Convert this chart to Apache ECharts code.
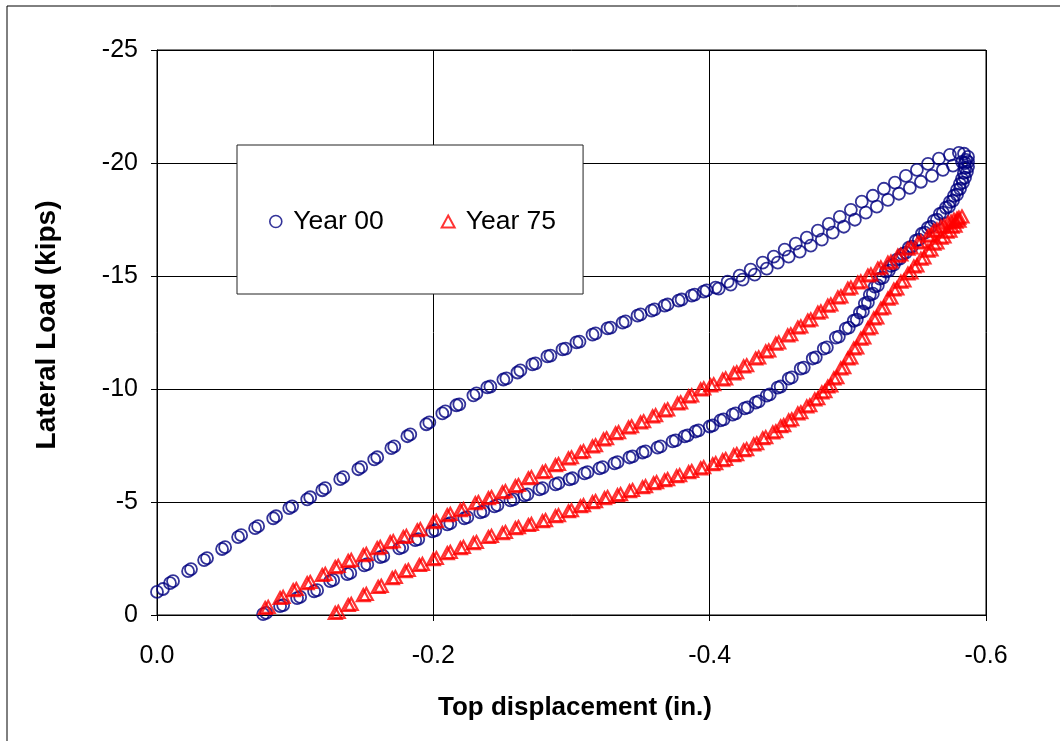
<!DOCTYPE html>
<html>
<head>
<meta charset="utf-8">
<script src="https://cdn.jsdelivr.net/npm/echarts@6/dist/echarts.min.js"></script>
<style>
  html, body { margin: 0; padding: 0; background: #fff; }
  #chart { width: 1060px; height: 741px; }
</style>
</head>
<body>
<div id="chart"></div>
<script>
// Hysteresis loops: top displacement (in.) vs lateral load (kips), two cycles per case.

const seriesNames = ['Year 00', 'Year 75'];
const xTicks = [0, -0.2, -0.4, -0.6];
const yTicks = [0, -5, -10, -15, -20, -25];

// Year 00, cycle A: loading branch up to the peak
const year00UpA = [
  [0.0000,-1.02],[-0.0094,-1.41],[-0.0225,-1.94],[-0.0341,-2.43],[-0.0471,-2.92],[-0.0587,-3.45],
  [-0.0710,-3.84],[-0.0841,-4.28],[-0.0957,-4.73],[-0.1087,-5.12],[-0.1196,-5.52],[-0.1326,-6.01],
  [-0.1457,-6.45],[-0.1572,-6.89],[-0.1696,-7.38],[-0.1812,-7.91],[-0.1949,-8.44],[-0.2065,-8.92],
  [-0.2167,-9.28],[-0.2290,-9.72],[-0.2391,-10.07],[-0.2507,-10.42],[-0.2609,-10.73],[-0.2717,-11.09],
  [-0.2826,-11.44],[-0.2935,-11.75],[-0.3036,-12.06],[-0.3152,-12.41],[-0.3261,-12.68],[-0.3370,-12.94],
  [-0.3478,-13.25],[-0.3580,-13.47],[-0.3674,-13.69],[-0.3775,-13.91],[-0.3870,-14.13],[-0.3957,-14.31],
  [-0.4043,-14.49],[-0.4130,-14.75],[-0.4217,-15.02],[-0.4297,-15.28],[-0.4384,-15.59],[-0.4464,-15.86],
  [-0.4543,-16.17],[-0.4623,-16.43],[-0.4703,-16.70],[-0.4783,-17.01],[-0.4862,-17.31],[-0.4942,-17.62],
  [-0.5022,-17.93],[-0.5101,-18.29],[-0.5181,-18.55],[-0.5261,-18.86],[-0.5341,-19.13],[-0.5420,-19.43],
  [-0.5500,-19.70],[-0.5580,-19.96],[-0.5659,-20.19],[-0.5739,-20.36],[-0.5804,-20.45],[-0.5841,-20.41],
  [-0.5870,-20.27]
];
// Year 00, cycle A: unloading branch back to zero load
const year00DownA = [
  [-0.5870,-20.05],[-0.5870,-19.83],[-0.5862,-19.61],[-0.5848,-19.35],[-0.5833,-19.13],[-0.5812,-18.86],
  [-0.5790,-18.60],[-0.5761,-18.33],[-0.5732,-18.07],[-0.5688,-17.80],[-0.5645,-17.49],[-0.5601,-17.18],
  [-0.5558,-16.92],[-0.5514,-16.61],[-0.5464,-16.30],[-0.5420,-16.03],[-0.5377,-15.77],[-0.5333,-15.50],
  [-0.5297,-15.24],[-0.5254,-14.93],[-0.5217,-14.58],[-0.5181,-14.22],[-0.5145,-13.83],[-0.5109,-13.43],
  [-0.5065,-13.07],[-0.5007,-12.72],[-0.4935,-12.32],[-0.4848,-11.84],[-0.4768,-11.40],[-0.4681,-10.95],
  [-0.4594,-10.51],[-0.4514,-10.11],[-0.4435,-9.76],[-0.4355,-9.45],[-0.4275,-9.19],[-0.4188,-8.92],
  [-0.4101,-8.66],[-0.4022,-8.39],[-0.3920,-8.17],[-0.3841,-7.95],[-0.3754,-7.73],[-0.3645,-7.46],
  [-0.3536,-7.24],[-0.3442,-7.02],[-0.3333,-6.76],[-0.3225,-6.54],[-0.3116,-6.32],[-0.3007,-6.05],
  [-0.2906,-5.83],[-0.2790,-5.61],[-0.2681,-5.34],[-0.2580,-5.12],[-0.2464,-4.86],[-0.2362,-4.59],
  [-0.2246,-4.33],[-0.2123,-4.06],[-0.2014,-3.75],[-0.1891,-3.36],[-0.1775,-3.00],[-0.1638,-2.61],
  [-0.1522,-2.25],[-0.1399,-1.86],[-0.1275,-1.55],[-0.1159,-1.10],[-0.1036,-0.80],[-0.0913,-0.44],
  [-0.0790,-0.09]
];
// Year 00, cycle B: loading branch
const year00UpB = [
  [-0.0043,-1.15],[-0.0116,-1.50],[-0.0246,-2.03],[-0.0362,-2.52],[-0.0493,-3.00],[-0.0609,-3.53],
  [-0.0732,-3.93],[-0.0862,-4.37],[-0.0978,-4.81],[-0.1109,-5.21],[-0.1217,-5.61],[-0.1348,-6.10],
  [-0.1478,-6.54],[-0.1594,-6.98],[-0.1717,-7.46],[-0.1833,-7.99],[-0.1971,-8.52],[-0.2087,-9.01],
  [-0.2188,-9.32],[-0.2312,-9.81],[-0.2413,-10.11],[-0.2529,-10.47],[-0.2630,-10.82],[-0.2739,-11.13],
  [-0.2848,-11.48],[-0.2957,-11.79],[-0.3058,-12.10],[-0.3174,-12.46],[-0.3283,-12.72],[-0.3391,-12.99],
  [-0.3500,-13.30],[-0.3601,-13.52],[-0.3696,-13.74],[-0.3797,-13.96],[-0.3891,-14.18],[-0.3978,-14.36],
  [-0.4065,-14.44],[-0.4152,-14.62],[-0.4239,-14.84],[-0.4326,-15.06],[-0.4413,-15.33],[-0.4493,-15.59],
  [-0.4572,-15.86],[-0.4652,-16.08],[-0.4732,-16.34],[-0.4812,-16.61],[-0.4891,-16.92],[-0.4971,-17.18],
  [-0.5051,-17.49],[-0.5130,-17.80],[-0.5210,-18.07],[-0.5290,-18.37],[-0.5370,-18.64],[-0.5449,-18.90],
  [-0.5529,-19.17],[-0.5609,-19.43],[-0.5688,-19.70],[-0.5761,-19.88],[-0.5826,-20.05],[-0.5855,-20.14]
];
// Year 00, cycle B: unloading branch
const year00DownB = [
  [-0.5848,-20.00],[-0.5848,-19.78],[-0.5840,-19.56],[-0.5826,-19.30],[-0.5811,-19.08],[-0.5790,-18.81],
  [-0.5768,-18.55],[-0.5739,-18.28],[-0.5710,-18.02],[-0.5666,-17.75],[-0.5623,-17.44],[-0.5579,-17.13],
  [-0.5536,-16.87],[-0.5492,-16.56],[-0.5442,-16.25],[-0.5398,-15.98],[-0.5355,-15.72],[-0.5311,-15.45],
  [-0.5275,-15.19],[-0.5232,-14.88],[-0.5195,-14.53],[-0.5159,-14.17],[-0.5123,-13.78],[-0.5087,-13.38],
  [-0.5043,-13.02],[-0.4985,-12.67],[-0.4913,-12.27],[-0.4826,-11.79],[-0.4746,-11.35],[-0.4659,-10.90],
  [-0.4572,-10.46],[-0.4492,-10.06],[-0.4413,-9.71],[-0.4333,-9.40],[-0.4253,-9.14],[-0.4166,-8.87],
  [-0.4079,-8.61],[-0.4000,-8.34],[-0.3898,-8.12],[-0.3819,-7.90],[-0.3732,-7.68],[-0.3623,-7.41],
  [-0.3514,-7.19],[-0.3420,-6.97],[-0.3311,-6.71],[-0.3203,-6.49],[-0.3094,-6.27],[-0.2985,-6.00],
  [-0.2884,-5.78],[-0.2768,-5.56],[-0.2659,-5.29],[-0.2558,-5.07],[-0.2442,-4.81],[-0.2340,-4.54],
  [-0.2224,-4.28],[-0.2101,-4.01],[-0.1992,-3.70],[-0.1869,-3.31],[-0.1753,-2.95],[-0.1616,-2.56],
  [-0.1500,-2.20],[-0.1377,-1.81],[-0.1253,-1.50],[-0.1137,-1.05],[-0.1014,-0.75],[-0.0891,-0.39],
  [-0.0768,-0.04]
];

// Year 75, cycle A: loading branch up to the peak
const year75UpA = [
  [-0.1290,-0.09],[-0.1384,-0.44],[-0.1493,-0.88],[-0.1601,-1.24],[-0.1703,-1.63],[-0.1797,-1.94],
  [-0.1899,-2.21],[-0.2000,-2.47],[-0.2101,-2.74],[-0.2196,-2.96],[-0.2290,-3.18],[-0.2399,-3.45],
  [-0.2500,-3.62],[-0.2594,-3.84],[-0.2688,-3.98],[-0.2790,-4.15],[-0.2884,-4.37],[-0.2978,-4.59],
  [-0.3065,-4.81],[-0.3152,-4.99],[-0.3239,-5.17],[-0.3333,-5.30],[-0.3420,-5.48],[-0.3514,-5.65],
  [-0.3594,-5.83],[-0.3674,-5.96],[-0.3761,-6.14],[-0.3848,-6.32],[-0.3935,-6.49],[-0.4022,-6.67],
  [-0.4094,-6.85],[-0.4174,-7.07],[-0.4246,-7.29],[-0.4319,-7.55],[-0.4384,-7.82],[-0.4457,-8.08],
  [-0.4514,-8.35],[-0.4572,-8.61],[-0.4638,-8.92],[-0.4703,-9.23],[-0.4761,-9.54],[-0.4812,-9.85],
  [-0.4855,-10.11],[-0.4899,-10.47],[-0.4949,-10.91],[-0.5000,-11.35],[-0.5043,-11.79],[-0.5094,-12.23],
  [-0.5145,-12.68],[-0.5188,-13.12],[-0.5239,-13.56],[-0.5290,-14.00],[-0.5333,-14.40],[-0.5384,-14.75],
  [-0.5435,-15.11],[-0.5478,-15.42],[-0.5529,-15.77],[-0.5580,-16.12],[-0.5623,-16.43],[-0.5674,-16.70],
  [-0.5717,-16.96],[-0.5754,-17.18],[-0.5783,-17.40],[-0.5804,-17.58]
];
// Year 75, cycle A: unloading branch
const year75DownA = [
  [-0.5768,-17.49],[-0.5725,-17.36],[-0.5674,-17.18],[-0.5623,-17.01],[-0.5580,-16.78],[-0.5507,-16.48],
  [-0.5435,-16.21],[-0.5362,-15.90],[-0.5290,-15.59],[-0.5217,-15.33],[-0.5145,-15.02],[-0.5072,-14.71],
  [-0.5000,-14.44],[-0.4928,-14.05],[-0.4855,-13.69],[-0.4783,-13.38],[-0.4710,-13.03],[-0.4638,-12.72],
  [-0.4565,-12.37],[-0.4478,-12.01],[-0.4406,-11.66],[-0.4333,-11.35],[-0.4246,-11.00],[-0.4174,-10.69],
  [-0.4094,-10.42],[-0.4007,-10.16],[-0.3935,-9.98],[-0.3848,-9.67],[-0.3768,-9.36],[-0.3674,-9.05],
  [-0.3587,-8.79],[-0.3500,-8.52],[-0.3413,-8.30],[-0.3319,-8.04],[-0.3232,-7.77],[-0.3152,-7.46],
  [-0.3065,-7.20],[-0.2978,-6.93],[-0.2884,-6.63],[-0.2790,-6.32],[-0.2688,-6.05],[-0.2594,-5.70],
  [-0.2500,-5.43],[-0.2399,-5.17],[-0.2304,-4.95],[-0.2196,-4.64],[-0.2101,-4.42],[-0.2000,-4.11],
  [-0.1884,-3.75],[-0.1783,-3.45],[-0.1688,-3.22],[-0.1594,-2.96],[-0.1493,-2.65],[-0.1384,-2.39],
  [-0.1290,-2.12],[-0.1196,-1.77],[-0.1087,-1.41],[-0.0986,-1.10],[-0.0891,-0.75],[-0.0783,-0.31]
];
// Year 75, cycle B: loading branch
const year75UpB = [
  [-0.1312,-0.14],[-0.1406,-0.49],[-0.1515,-0.93],[-0.1623,-1.29],[-0.1725,-1.68],[-0.1819,-1.99],
  [-0.1921,-2.26],[-0.2022,-2.52],[-0.2123,-2.79],[-0.2218,-3.01],[-0.2312,-3.23],[-0.2421,-3.50],
  [-0.2522,-3.67],[-0.2616,-3.89],[-0.2710,-4.03],[-0.2812,-4.20],[-0.2906,-4.42],[-0.3000,-4.64],
  [-0.3087,-4.86],[-0.3174,-5.04],[-0.3261,-5.22],[-0.3355,-5.35],[-0.3442,-5.53],[-0.3536,-5.70],
  [-0.3616,-5.88],[-0.3696,-6.01],[-0.3783,-6.19],[-0.3870,-6.37],[-0.3957,-6.54],[-0.4044,-6.72],
  [-0.4116,-6.90],[-0.4196,-7.12],[-0.4268,-7.34],[-0.4341,-7.60],[-0.4406,-7.87],[-0.4479,-8.13],
  [-0.4536,-8.40],[-0.4594,-8.66],[-0.4660,-8.97],[-0.4725,-9.28],[-0.4783,-9.59],[-0.4834,-9.90],
  [-0.4877,-10.16],[-0.4921,-10.52],[-0.4971,-10.96],[-0.5022,-11.40],[-0.5065,-11.84],[-0.5116,-12.28],
  [-0.5167,-12.73],[-0.5210,-13.17],[-0.5261,-13.61],[-0.5312,-14.05],[-0.5355,-14.45],[-0.5406,-14.80],
  [-0.5457,-15.16],[-0.5500,-15.47],[-0.5551,-15.82],[-0.5602,-16.17],[-0.5645,-16.48],[-0.5696,-16.75],
  [-0.5739,-17.01],[-0.5776,-17.23],[-0.5805,-17.45],[-0.5826,-17.63]
];
// Year 75, cycle B: unloading branch
const year75DownB = [
  [-0.5790,-17.54],[-0.5747,-17.41],[-0.5696,-17.23],[-0.5645,-17.06],[-0.5602,-16.83],[-0.5529,-16.53],
  [-0.5457,-16.26],[-0.5384,-15.95],[-0.5312,-15.64],[-0.5239,-15.38],[-0.5167,-15.07],[-0.5094,-14.76],
  [-0.5022,-14.49],[-0.4950,-14.10],[-0.4877,-13.74],[-0.4805,-13.43],[-0.4732,-13.08],[-0.4660,-12.77],
  [-0.4587,-12.42],[-0.4500,-12.06],[-0.4428,-11.71],[-0.4355,-11.40],[-0.4268,-11.05],[-0.4196,-10.74],
  [-0.4116,-10.47],[-0.4029,-10.21],[-0.3957,-10.03],[-0.3870,-9.72],[-0.3790,-9.41],[-0.3696,-9.10],
  [-0.3609,-8.84],[-0.3522,-8.57],[-0.3435,-8.35],[-0.3341,-8.09],[-0.3254,-7.82],[-0.3174,-7.51],
  [-0.3087,-7.25],[-0.3000,-6.98],[-0.2906,-6.68],[-0.2812,-6.37],[-0.2710,-6.10],[-0.2616,-5.75],
  [-0.2522,-5.48],[-0.2421,-5.22],[-0.2326,-5.00],[-0.2218,-4.69],[-0.2123,-4.47],[-0.2022,-4.16],
  [-0.1906,-3.80],[-0.1805,-3.50],[-0.1710,-3.27],[-0.1616,-3.01],[-0.1515,-2.70],[-0.1406,-2.44],
  [-0.1312,-2.17],[-0.1218,-1.82],[-0.1109,-1.46],[-0.1008,-1.15],[-0.0913,-0.80],[-0.0805,-0.36]
];

const FONT = '"Liberation Sans", Arial, Helvetica, sans-serif';
const BLUE = '#000080';
const RED = '#FF0000';

const chart = echarts.init(document.getElementById('chart'), null, { renderer: 'canvas' });

const fmtX = v => (Math.abs(v) < 1e-9 ? '0.0' : v.toFixed(1));
const fmtY = v => (Math.abs(v) < 1e-9 ? '0' : String(Math.round(v)));

chart.setOption({
  animation: false,
  backgroundColor: '#fff',
  grid: {
    left: 157, top: 50, right: 74, bottom: 126,
    show: true, borderColor: '#000', borderWidth: 1, backgroundColor: 'rgba(0,0,0,0)'
  },
  xAxis: {
    type: 'value',
    min: xTicks[3], max: xTicks[0], interval: 0.2,
    inverse: true,
    axisLine: { show: true, onZero: false, lineStyle: { color: '#000', width: 1 } },
    axisTick: { show: true, length: 6, inside: false, lineStyle: { color: '#000', width: 1 } },
    axisLabel: { margin: 29, fontSize: 25, color: '#000', fontFamily: FONT, formatter: fmtX },
    splitLine: { show: true, lineStyle: { color: '#000', width: 1 } }
  },
  yAxis: {
    type: 'value',
    min: yTicks[5], max: yTicks[0], interval: 5,
    inverse: true,
    axisLine: { show: true, onZero: false, lineStyle: { color: '#000', width: 1 } },
    axisTick: { show: true, length: 6, inside: false, lineStyle: { color: '#000', width: 1 } },
    axisLabel: { margin: 19, fontSize: 25, color: '#000', fontFamily: FONT, formatter: fmtY },
    splitLine: { show: true, lineStyle: { color: '#000', width: 1 } }
  },
  legend: {
    left: 237, top: 145,
    padding: [63, 27, 59, 32],
    itemGap: 57,
    itemWidth: 13, itemHeight: 12,
    backgroundColor: '#fff',
    borderColor: '#222', borderWidth: 1,
    textStyle: { fontSize: 26.5, lineHeight: 26, color: '#000', fontFamily: FONT, padding: [0, 0, 0, 6] },
    selectedMode: false,
    data: [
      { name: seriesNames[0], icon: 'circle',
        itemStyle: { color: 'rgba(0,0,0,0)', borderColor: BLUE, borderWidth: 1.6 } },
      { name: seriesNames[1], icon: 'triangle',
        itemStyle: { color: 'rgba(0,0,0,0)', borderColor: RED, borderWidth: 2 } }
    ]
  },
  graphic: [
    { type: 'rect', silent: true, z: -10,
      shape: { x: 7, y: 6, width: 1100, height: 800 },
      style: { fill: 'none', stroke: '#000', lineWidth: 1 } },
    { type: 'text', silent: true, x: 575, y: 708,
      style: { text: 'Top displacement (in.)', font: 'bold 26px ' + FONT, fill: '#000',
               align: 'center', verticalAlign: 'middle' } },
    { type: 'text', silent: true, x: 47, y: 325, rotation: Math.PI / 2,
      style: { text: 'Lateral Load (kips)', font: 'bold 28px ' + FONT, fill: '#000',
               align: 'center', verticalAlign: 'middle' } }
  ],
  series: [
    {
      name: seriesNames[0], type: 'scatter',
      symbol: 'circle', symbolSize: 12,
      itemStyle: { color: 'rgba(0,0,0,0)', borderColor: BLUE, borderWidth: 1.8 },
      emphasis: { disabled: true },
      data: [].concat(year00UpA, year00DownA, year00UpB, year00DownB)
    },
    {
      name: seriesNames[1], type: 'scatter',
      symbol: 'triangle', symbolSize: [13, 12],
      itemStyle: { color: 'rgba(0,0,0,0)', borderColor: RED, borderWidth: 2.2 },
      emphasis: { disabled: true },
      data: [].concat(year75UpA, year75DownA, year75UpB, year75DownB)
    }
  ]
});
</script>
</body>
</html>
